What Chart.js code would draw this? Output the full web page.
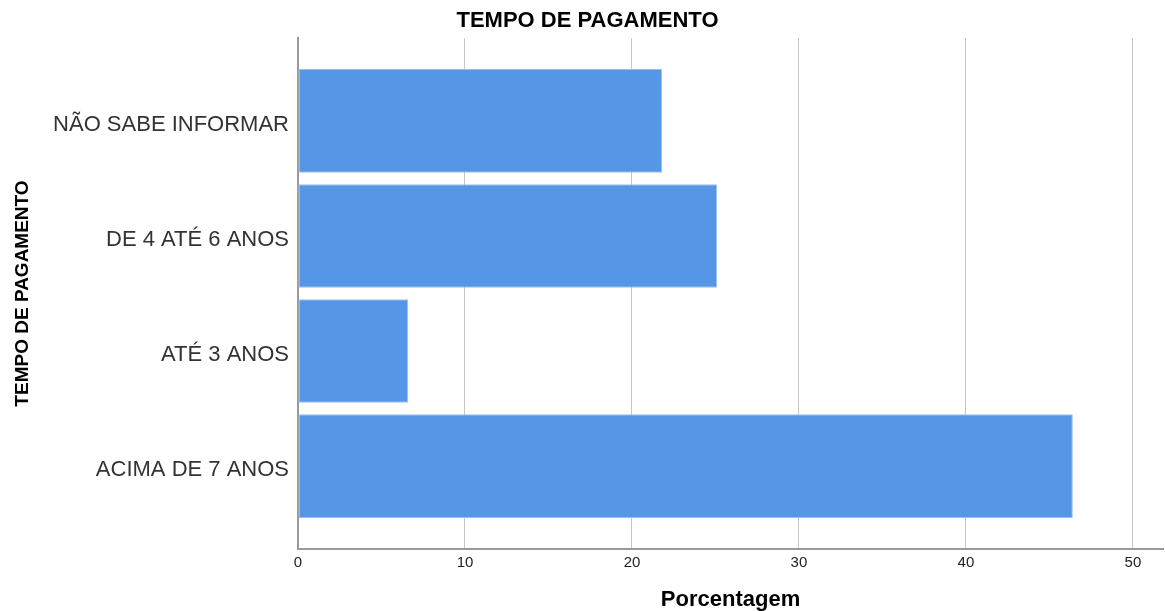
<!DOCTYPE html>
<html>
<head>
<meta charset="utf-8">
<script src="https://cdn.jsdelivr.net/npm/chart.js@4/dist/chart.umd.min.js"></script>
<style>
  html, body { margin: 0; padding: 0; background: #fff; }
  #wrap { width: 1165px; height: 611px; position: relative; }
</style>
</head>
<body>
<div id="wrap"><canvas id="chartTempo"></canvas></div>
<script>
// ========== DATA ==========
const categorias = ["NÃO SABE INFORMAR", "DE 4 ATÉ 6 ANOS", "ATÉ 3 ANOS", "ACIMA DE 7 ANOS"];
const porcentagens = [21.8, 25.1, 6.6, 46.4];
const xTicks = [0, 10, 20, 30, 40, 50];

const fonte = "'Liberation Sans', Arial, sans-serif";

// ========== CHART ==========
const ctx = document.getElementById("chartTempo");
new Chart(ctx, {
  type: "bar",
  data: {
    datasets: [{
      label: "Porcentagem",
      data: porcentagens.map((v, i) => ({ x: v, y: i })),
      backgroundColor: "#5596e6",
      borderColor: "#9cc0ee",
      borderWidth: 1,
      borderSkipped: false,
      barPercentage: 0.9,
      categoryPercentage: 1
    }]
  },
  options: {
    indexAxis: "y",
    responsive: true,
    maintainAspectRatio: false,
    animation: false,
    layout: { padding: { left: 12, right: 2, top: 0, bottom: 0 } },
    plugins: {
      legend: { display: false },
      tooltip: { enabled: false },
      title: {
        display: true,
        text: "TEMPO DE PAGAMENTO",
        color: "#000",
        font: { family: fonte, size: 22, weight: "bold", lineHeight: 1 },
        padding: { top: 10, bottom: 6 }
      }
    },
    scales: {
      x: {
        type: "linear",
        min: 0,
        max: 51.8,
        afterBuildTicks: s => { s.ticks = xTicks.map(v => ({ value: v })); },
        afterFit: s => { s.height = 62; },
        ticks: {
          color: "#222",
          font: { family: fonte, size: 15 },
          padding: 5,
          maxRotation: 0
        },
        grid: {
          drawTicks: false,
          color: c => (c.tick && c.tick.value === 0) ? "rgba(0,0,0,0)" : "#c6c6c6",
          lineWidth: 1
        },
        border: { display: true, color: "#9a9a9a", width: 2 },
        title: {
          display: true,
          text: "Porcentagem",
          color: "#000",
          font: { family: fonte, size: 22, weight: "bold", lineHeight: 1 },
          padding: { top: 0, bottom: 0 }
        }
      },
      y: {
        type: "linear",
        reverse: true,
        offset: false,
        min: -0.72,
        max: 3.72,
        afterBuildTicks: s => { s.ticks = categorias.map((_, i) => ({ value: i })); },
        afterFit: s => { s.width = 286; },
        ticks: {
          callback: v => categorias[v] ?? "",
          color: "#333",
          font: { family: fonte, size: 22 },
          padding: 9,
          labelOffset: 4
        },
        grid: { display: false, drawTicks: false },
        border: { display: true, color: "#9a9a9a", width: 2 },
        title: {
          display: true,
          text: "TEMPO DE PAGAMENTO",
          color: "#000",
          font: { family: fonte, size: 19, weight: "bold", lineHeight: 1 },
          padding: { top: 1, bottom: 0 }
        }
      }
    }
  }
});
</script>
</body>
</html>
